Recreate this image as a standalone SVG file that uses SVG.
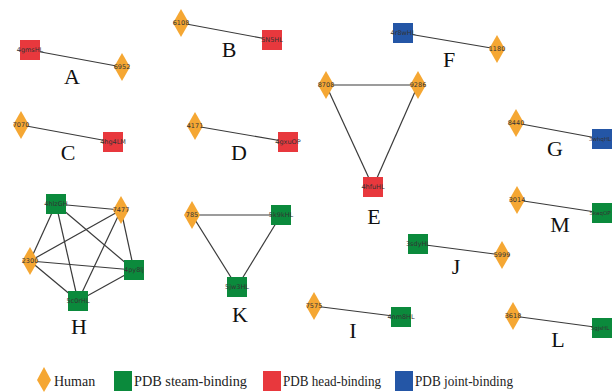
<svg xmlns="http://www.w3.org/2000/svg" width="612" height="392" viewBox="0 0 612 392">
<style>
.e{stroke:#3a3a3a;stroke-width:1.2;fill:none}
.h{fill:#F5A733}
.r{fill:#E8383D}
.g{fill:#0B8A3C}
.b{fill:#2456A6}
.t{font-family:"DejaVu Sans","Liberation Sans",sans-serif;font-size:6.5px;fill:#333;text-anchor:middle;dominant-baseline:central}
.ts{font-size:5.5px}
.L{font-family:"Liberation Serif","Times New Roman",serif;font-size:22px;fill:#111;text-anchor:middle}
.lg{font-family:"Liberation Serif","Times New Roman",serif;font-size:14px;fill:#222}
</style>
<defs>
<polygon id="dm" points="0,-14 8,0 0,14 -8,0"/>
<rect id="sq" x="-10" y="-10" width="20" height="20"/>
</defs>
<rect width="612" height="392" fill="#fff"/>
<g id="connectors">
<line class="e" x1="30" y1="50" x2="122" y2="67"/>
<line class="e" x1="181" y1="23" x2="272" y2="40"/>
<line class="e" x1="403" y1="33" x2="497" y2="49"/>
<line class="e" x1="21" y1="125" x2="113" y2="142"/>
<line class="e" x1="195" y1="126" x2="288" y2="142"/>
<line class="e" x1="326" y1="85" x2="418" y2="85"/>
<line class="e" x1="326" y1="85" x2="373" y2="187"/>
<line class="e" x1="418" y1="85" x2="373" y2="187"/>
<line class="e" x1="516" y1="123" x2="602" y2="139"/>
<line class="e" x1="517" y1="200" x2="602" y2="213"/>
<line class="e" x1="513" y1="316" x2="602" y2="328"/>
<line class="e" x1="56" y1="204" x2="121" y2="210"/>
<line class="e" x1="56" y1="204" x2="30" y2="261"/>
<line class="e" x1="56" y1="204" x2="78" y2="301"/>
<line class="e" x1="56" y1="204" x2="134" y2="270"/>
<line class="e" x1="121" y1="210" x2="30" y2="261"/>
<line class="e" x1="121" y1="210" x2="78" y2="301"/>
<line class="e" x1="121" y1="210" x2="134" y2="270"/>
<line class="e" x1="30" y1="261" x2="134" y2="270"/>
<line class="e" x1="30" y1="261" x2="78" y2="301"/>
<line class="e" x1="78" y1="301" x2="134" y2="270"/>
<line class="e" x1="192" y1="215" x2="281" y2="215"/>
<line class="e" x1="192" y1="215" x2="237" y2="287"/>
<line class="e" x1="281" y1="215" x2="237" y2="287"/>
<line class="e" x1="418" y1="244" x2="502" y2="255"/>
<line class="e" x1="314" y1="306" x2="401" y2="317"/>
</g>
<g id="A"><use href="#sq" class="r" x="30" y="50"/><text class="t" x="30" y="50">4gmsHL</text><use href="#dm" class="h" x="122" y="67"/><text class="t" x="122" y="67">6952</text><text class="L" x="72" y="84">A</text></g>
<g id="B"><use href="#dm" class="h" x="181" y="23"/><text class="t" x="181" y="23">6108</text><use href="#sq" class="r" x="272" y="40"/><text class="t" x="272" y="40">5N5HL</text><text class="L" x="229" y="57">B</text></g>
<g id="F"><use href="#sq" class="b" x="403" y="33"/><text class="t" x="403" y="33">4r8wHL</text><use href="#dm" class="h" x="497" y="49"/><text class="t" x="497" y="49">1180</text><text class="L" x="449" y="67">F</text></g>
<g id="C"><use href="#dm" class="h" x="21" y="125"/><text class="t" x="21" y="125">7070</text><use href="#sq" class="r" x="113" y="142"/><text class="t" x="113" y="142">4hg4LM</text><text class="L" x="68" y="160">C</text></g>
<g id="D"><use href="#dm" class="h" x="195" y="126"/><text class="t" x="195" y="126">4171</text><use href="#sq" class="r" x="288" y="142"/><text class="t" x="288" y="142">4gxuOP</text><text class="L" x="239" y="160">D</text></g>
<g id="E"><use href="#dm" class="h" x="326" y="85"/><text class="t" x="326" y="85">8708</text><use href="#dm" class="h" x="418" y="85"/><text class="t" x="418" y="85">9286</text><use href="#sq" class="r" x="373" y="187"/><text class="t" x="373" y="187">4hfuHL</text><text class="L" x="374" y="224">E</text></g>
<g id="G"><use href="#dm" class="h" x="516" y="123"/><text class="t" x="516" y="123">8440</text><use href="#sq" class="b" x="602" y="139"/><text class="t ts" x="600" y="139">3whqHL</text><text class="L" x="555" y="156">G</text></g>
<g id="M"><use href="#dm" class="h" x="517" y="200"/><text class="t" x="517" y="200">3014</text><use href="#sq" class="g" x="602" y="213"/><text class="t ts" x="600" y="213">5kaqOP</text><text class="L" x="560" y="232">M</text></g>
<g id="L"><use href="#dm" class="h" x="513" y="316"/><text class="t" x="513" y="316">3618</text><use href="#sq" class="g" x="602" y="328"/><text class="t ts" x="600" y="328">5gjsHL</text><text class="L" x="558" y="347">L</text></g>
<g id="H"><use href="#sq" class="g" x="56" y="204"/><text class="t" x="56" y="204">4hlzGH</text><use href="#dm" class="h" x="121" y="210"/><text class="t" x="121" y="210">7477</text><use href="#dm" class="h" x="30" y="261"/><text class="t" x="30" y="261">2300</text><use href="#sq" class="g" x="134" y="270"/><text class="t" x="134" y="270">4py8lj</text><use href="#sq" class="g" x="78" y="301"/><text class="t" x="78" y="301">5c0rHL</text><text class="L" x="79" y="334">H</text></g>
<g id="K"><use href="#dm" class="h" x="192" y="215"/><text class="t" x="192" y="215">785</text><use href="#sq" class="g" x="281" y="215"/><text class="t" x="281" y="215">5k9kHL</text><use href="#sq" class="g" x="237" y="287"/><text class="t" x="237" y="287">5jw3HL</text><text class="L" x="240" y="322">K</text></g>
<g id="J"><use href="#sq" class="g" x="418" y="244"/><text class="t" x="418" y="244">3sdyHL</text><use href="#dm" class="h" x="502" y="255"/><text class="t" x="502" y="255">5999</text><text class="L" x="456" y="274">J</text></g>
<g id="I"><use href="#dm" class="h" x="314" y="306"/><text class="t" x="314" y="306">7575</text><use href="#sq" class="g" x="401" y="317"/><text class="t" x="401" y="317">4nm8HL</text><text class="L" x="353" y="338">I</text></g>
<g id="legend">
<polygon class="h" points="44,367 51,380 44,392 37,380"/><text class="lg" x="54" y="386">Human</text>
<rect class="g" x="114" y="371" width="18" height="20"/><text class="lg" x="134" y="386" textLength="113" lengthAdjust="spacingAndGlyphs">PDB steam-binding</text>
<rect class="r" x="263" y="371" width="18" height="20"/><text class="lg" x="283" y="386" textLength="98" lengthAdjust="spacingAndGlyphs">PDB head-binding</text>
<rect class="b" x="395" y="371" width="18" height="20"/><text class="lg" x="415" y="386" textLength="98" lengthAdjust="spacingAndGlyphs">PDB joint-binding</text>
</g>
</svg>
